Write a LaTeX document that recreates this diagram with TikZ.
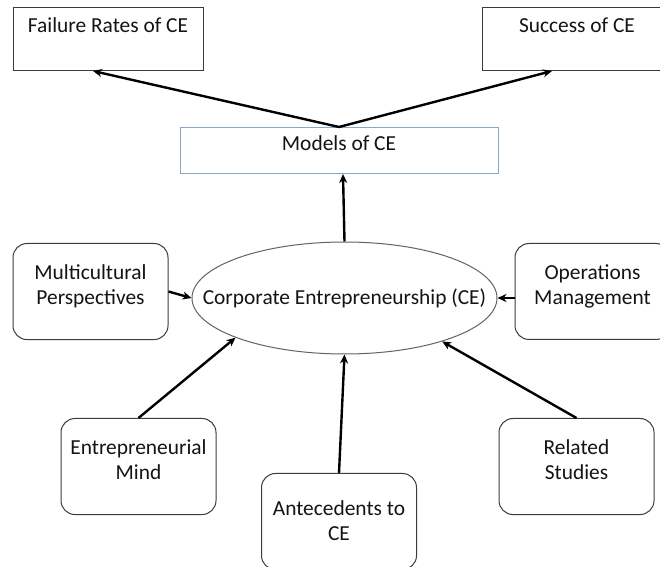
\documentclass[tikz,border=0pt]{standalone}
\usepackage{fontspec}
\setmainfont{Carlito}
\usetikzlibrary{shapes.geometric, arrows.meta, positioning, calc}
\definecolor{boxline}{RGB}{60, 60, 60}
\definecolor{modelline}{RGB}{140, 165, 195}
\definecolor{textdark}{RGB}{20, 20, 20}

\begin{document}
\begin{tikzpicture}[x=0.5pt, y=-0.5pt,
    every node/.style={font=\fontsize{10.7}{12.5}\selectfont, text=textdark},
    topbox/.style={draw=boxline, line width=0.5pt, anchor=north, minimum width=95pt, inner xsep=0pt, inner ysep=0pt, text height=12.4pt, text depth=19.1pt},
    roundbox/.style={draw=boxline, line width=0.5pt, rounded corners=7pt, anchor=north, minimum width=77.5pt, align=center, inner xsep=0pt, inner ysep=10.7pt, text depth=6.7pt},
    link/.style={-{Stealth[length=4.5pt, width=4pt]}, line width=1.2pt}]
    \fill[white] (0,0) rectangle (660,567);
    \useasboundingbox (0,0) rectangle (660,567);
    \clip (0,0) rectangle (660,567);

    % Outcomes
    \node[topbox] (failure) at (108,7) {Failure Rates of CE};
    \node[topbox] (success) at (577,7) {Success of CE};

    % Models
    \node[draw=modelline, line width=0.5pt, anchor=north, minimum width=159pt, inner sep=0pt, text height=11.5pt, text depth=11.5pt] (models) at (339,127) {Models of CE};

    % Core concept (text kept out of the ellipse size)
    \node[draw=boxline!80, line width=0.5pt, ellipse, minimum width=152.5pt, minimum height=56pt, inner sep=0pt] (ce) at (344.5,298) {\makebox[0pt]{Corporate Entrepreneurship (CE)}};

    % Inputs
    \node[roundbox] (multi) at (90.5,243) {Multicultural\\Perspectives};
    \node[roundbox] (ops) at (592.5,243) {Operations\\Management};
    \node[roundbox] (mind) at (138.5,418) {Entrepreneurial\\Mind};
    \node[roundbox] (related) at (576.5,418) {Related\\Studies};
    \node[roundbox, inner ysep=13.6pt, text depth=0.9pt] (antecedents) at (339,473) {Antecedents to\\CE};

    % Arrows
    \draw[link] (models.north) -- ([xshift=-7.5pt]failure.south);
    \draw[link] (models.north) -- ([xshift=-12.5pt]success.south);
    \draw[link] (ce.north) -- ([xshift=2pt]models.south);
    \draw[link] (multi.east) -- (ce.west);
    \draw[link] (ops.west |- ce.east) -- (ce.east);
    \draw[link] (mind.north) -- (ce.200);
    \draw[link] (antecedents.north) -- (ce.south);
    \draw[link] (related.north) -- (ce.-24);
\end{tikzpicture}
\end{document}
